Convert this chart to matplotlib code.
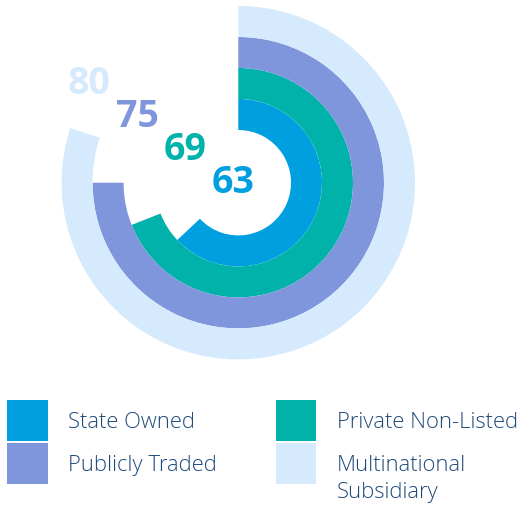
import numpy as np
import matplotlib.pyplot as plt
from matplotlib.patches import Rectangle

# data
categories = ['State Owned', 'Private Non-Listed', 'Publicly Traded', 'Multinational Subsidiary']
legend_labels = ['State Owned', 'Private Non-Listed', 'Publicly Traded', 'Multinational\nSubsidiary']
values = [63, 69, 75, 80]
colors = ['#009FE0', '#00B2A9', '#8096DC', '#D6EAFD']

W, H = 523, 505
fig = plt.figure(figsize=(W / 100, H / 100), dpi=100)
ax = fig.add_axes([0, 0, 1, 1])

# radial bars (innermost first)
cx, cy = 238.3, H - 182.7
hole, ring = 52.7, 31.0
for i, (v, c) in enumerate(zip(values, colors)):
    r = hole + ring * (i + 1)
    ax.pie([v, 100 - v], radius=r, center=(cx, cy), startangle=90,
           counterclock=False, colors=[c, 'none'],
           wedgeprops=dict(width=ring, linewidth=0))

# value labels, stepping up-left from the centre
for i, (v, c) in enumerate(zip(values, colors)):
    x = cx - 5 - 48 * i
    y = cy + 33 * i
    ax.text(x, y, str(v), color=c, fontsize=27, fontweight='bold',
            family='Open Sans', ha='center', va='center')

# legend (2 columns)
sq = 40.5
txt_col = '#1F4A7A'
for i, (lab, c) in enumerate(zip(legend_labels, colors)):
    col, row = i % 2, i // 2
    x0 = 7.3 if col == 0 else 275.7
    ytop = 400 + row * 43.3
    ax.add_patch(Rectangle((x0, H - ytop - sq), sq, sq, color=c, lw=0))
    if '\n' in lab:
        ax.text(x0 + 61, H - ytop - sq / 2 + 9, lab, color=txt_col, fontsize=15.8,
                family='Open Sans', fontweight='light', ha='left', va='top',
                linespacing=1.4)
    else:
        ax.text(x0 + 61, H - ytop - sq / 2 - 2, lab, color=txt_col, fontsize=15.8,
                family='Open Sans', fontweight='light', ha='left', va='center')

ax.set_xlim(0, W)
ax.set_ylim(0, H)
ax.set_aspect('equal')
ax.axis('off')

fig.savefig('out.png', dpi=100)
